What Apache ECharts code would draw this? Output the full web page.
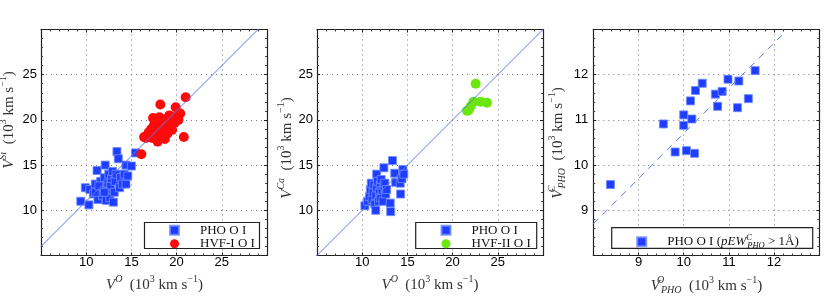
<!DOCTYPE html>
<html><head><meta charset="utf-8">
<script src="https://cdn.jsdelivr.net/npm/echarts@6/dist/echarts.min.js"></script>
<style>html,body{margin:0;padding:0;background:#fff}#c{width:830px;height:302px}</style>
</head><body><div id="c"></div>
<script>
// ---- data ----
const ticksP12 = [10, 15, 20, 25];
const ticksP3 = [9, 10, 11, 12];

const phoSi = [[9.4,11.0],[10.3,10.6],[9.9,12.5],[10.4,12.3],[10.8,11.8],[11.0,12.9],[11.2,14.4],[11.3,11.2],[11.5,12.2],[11.6,13.2],[11.8,11.6],[11.9,12.6],[12.0,13.6],[12.1,15.0],[12.2,11.1],[12.3,12.2],[12.4,13.0],[12.5,14.0],[12.6,11.4],[12.7,12.7],[12.8,13.5],[12.9,14.3],[13.0,10.9],[13.1,12.0],[13.2,13.2],[13.3,14.0],[13.4,16.5],[13.55,15.7],[13.7,12.5],[13.8,13.6],[14.0,12.9],[14.2,14.0],[14.4,15.0],[14.4,12.9],[14.6,13.8],[15.0,14.9],[15.45,16.35],[11.0,12.0],[11.4,12.7],[12.0,12.0]];
const hvf1Si = [[16.1,16.2],[16.4,18.1],[16.6,18.0],[16.9,18.6],[17.0,18.2],[17.2,19.0],[17.3,18.0],[17.4,20.2],[17.5,19.4],[17.6,18.5],[17.7,20.0],[17.8,18.9],[17.9,17.6],[18.0,19.6],[18.0,18.2],[18.1,20.3],[18.2,21.7],[18.2,19.0],[18.3,18.4],[18.4,20.0],[18.5,19.5],[18.6,18.8],[18.7,17.9],[18.8,20.1],[18.9,19.2],[19.0,18.5],[19.1,19.9],[19.2,20.5],[19.3,19.0],[19.5,18.9],[19.6,20.3],[19.8,19.7],[19.9,21.4],[20.0,20.4],[20.2,20.0],[20.4,20.7],[20.8,18.1],[21.0,22.5],[17.2,18.4],[18.5,18.0]];
const phoCa = [[10.3,10.5],[10.6,11.0],[10.8,11.5],[10.9,12.3],[11.0,13.0],[11.1,11.2],[11.2,12.0],[11.3,12.8],[11.4,10.7],[11.5,10.0],[11.5,11.6],[11.6,12.5],[11.6,14.0],[11.7,13.2],[11.8,11.0],[11.9,12.0],[12.0,12.8],[12.0,11.4],[12.1,13.4],[12.2,12.2],[12.3,11.0],[12.4,14.7],[12.4,12.7],[12.5,13.0],[12.6,11.8],[12.7,12.3],[13.1,10.8],[13.15,9.85],[13.35,15.5],[13.6,14.1],[13.7,13.1],[14.2,13.0],[14.25,11.8],[14.4,13.5],[14.5,14.5],[14.6,14.0]];
const hvf2Ca = [[21.6,21.0],[21.8,21.1],[22.0,21.5],[22.3,22.0],[22.55,24.0],[23.1,22.0],[23.8,21.9]];
const phoC = [[8.38,9.57],[9.55,10.91],[9.81,10.29],[10.06,10.32],[10.24,10.26],[10.0,10.88],[10.0,11.11],[10.18,11.02],[10.15,11.42],[10.26,11.65],[10.41,11.81],[10.70,11.57],[10.85,11.63],[10.75,11.30],[10.98,11.90],[11.22,11.86],[11.19,11.27],[11.43,11.47],[11.58,12.09]];
const fitSi = [[5, 6], [29, 30]];
const fitCa = [[5, 5], [30, 30]];
const fitC = [[8, 8.7], [12.25, 12.95]];

// ---- style ----
const BLUE = '#1f3dff', RED = '#ff0a0a', GREEN = '#6ae80e', LINEC = '#5a78f2';
const SERIF = 'Liberation Serif', SANS = 'Liberation Sans';
const TXT = '#333';
const FS = 15, SFS = 10;
const rich = {
  i: {fontFamily: SERIF, fontStyle: 'italic', fontSize: FS, color: TXT},
  n: {fontFamily: SERIF, fontSize: FS, color: TXT},
  sup: {fontFamily: SERIF, fontSize: SFS, color: TXT, padding: [0, 0, 11, 0]},
  supi: {fontFamily: SERIF, fontStyle: 'italic', fontSize: SFS, color: TXT, padding: [0, 0, 11, 0]},
  supw: {fontFamily: SERIF, fontStyle: 'italic', fontSize: SFS, color: TXT, padding: [0, 0, 11, 0], width: 1},
  subi: {fontFamily: SERIF, fontStyle: 'italic', fontSize: SFS, color: TXT, padding: [9, 0, 0, 0]}
};
const lrich = {
  i: {fontFamily: SERIF, fontStyle: 'italic', fontSize: 13, color: '#111'},
  n: {fontFamily: SERIF, fontSize: 13, color: '#111'},
  supw: {fontFamily: SERIF, fontStyle: 'italic', fontSize: 8.5, color: '#111', padding: [0, 0, 9, 0], width: 1},
  subi: {fontFamily: SERIF, fontStyle: 'italic', fontSize: 8.5, color: '#111', padding: [7, 0, 0, 0]}
};
const unit = '{n|(10}{sup|3}{n| km s}{sup|\u22121}{n|)}';

function axis(gi, pos, min, max, interval, ticks, main, margin) {
  return {
    type: 'value', gridIndex: gi, position: pos, min: min, max: max, interval: interval,
    axisLine: {show: true, onZero: false, lineStyle: {color: '#222', width: 1.2}},
    axisTick: {show: true, inside: true, length: 3, lineStyle: {color: '#222', width: 1}},
    minorTick: {show: true, splitNumber: 5, length: 2, lineStyle: {color: '#444', width: 1}},
    axisLabel: {show: main, margin: margin, color: '#000', fontSize: 13, fontFamily: SANS,
      formatter: function (v) { return ticks.indexOf(+v.toFixed(6)) >= 0 ? String(+v.toFixed(6)) : ''; }},
    splitLine: {show: main, lineStyle: {color: '#777', width: 1, type: [1, 4]}},
    minorSplitLine: {show: false}
  };
}

const grids = [
  {left: 41, top: 29.5, width: 226, height: 226},
  {left: 317, top: 29.5, width: 226, height: 226},
  {left: 593.3, top: 29.5, width: 226, height: 226}
];
const xAxes = [], yAxes = [];
const ranges = [[5, 30, 5, ticksP12], [5, 30, 5, ticksP12], [8, 13, 1, ticksP3]];
ranges.forEach(function (r, gi) {
  xAxes.push(axis(gi, 'bottom', r[0], r[1], r[2], r[3], true, 0));
  xAxes.push(axis(gi, 'top', r[0], r[1], r[2], r[3], false, 2));
  yAxes.push(axis(gi, 'left', r[0], r[1], r[2], r[3], true, gi === 2 ? 5 : 4));
  yAxes.push(axis(gi, 'right', r[0], r[1], r[2], r[3], false, 4));
});

function sq(name, data, xi, yi) {
  return {type: 'scatter', name: name, data: data, xAxisIndex: xi, yAxisIndex: yi, symbol: 'rect', symbolSize: 8,
    itemStyle: {color: BLUE, borderColor: 'rgba(110,140,255,0.85)', borderWidth: 1, opacity: 1}, z: 2};
}
function circ(name, data, color, xi, yi) {
  return {type: 'scatter', name: name, data: data, xAxisIndex: xi, yAxisIndex: yi, symbol: 'circle', symbolSize: 10,
    itemStyle: {color: color, opacity: 1}, z: 2};
}
function fit(name, data, xi, yi, dashed) {
  return {type: 'line', name: name, data: data, xAxisIndex: xi, yAxisIndex: yi, symbol: 'none', showSymbol: false, silent: true,
    color: LINEC, itemStyle: {color: LINEC},
    lineStyle: {color: LINEC, width: 1, opacity: 1, type: dashed ? [7, 6] : 'solid'}, z: 3};
}

const nameC = 'PHO O I (pEW > 1\u00c5)';
const series = [
  sq('PHO O I', phoSi, 0, 0), circ('HVF-I O I', hvf1Si, RED, 0, 0), fit('fitSi', fitSi, 0, 0, false),
  sq('PHO O I', phoCa, 2, 2), circ('HVF-II O I', hvf2Ca, GREEN, 2, 2), fit('fitCa', fitCa, 2, 2, false),
  sq(nameC, phoC, 4, 4), fit('fitC', fitC, 4, 4, true)
];

function legend(left, top, items) {
  return {left: left, top: top, orient: 'vertical', padding: 0, itemGap: 0.4, itemWidth: 9, itemHeight: 9,
    selectedMode: false, z: 10, data: items,
    formatter: function (n) {
      if (n === nameC) return '{n|PHO O I (}{i|pEW}{supw|C}{subi|PHO}{n| > 1\u00c5)}';
      return '{n|' + n + '}';
    },
    textStyle: {fontFamily: SERIF, fontSize: 13, color: '#111', lineHeight: 11, padding: [0, 0, 0, 16], rich: lrich}};
}

function gtext(x, y, text, rot) {
  return {type: 'text', x: x, y: y, rotation: rot || 0, z: 20,
    style: {text: text, rich: rich, align: 'center', verticalAlign: 'middle', fontFamily: SERIF, fontSize: FS, fill: TXT}};
}
function box(x, y, w, h) {
  return {type: 'rect', shape: {x: x, y: y, width: w, height: h}, z: 8,
    style: {fill: '#fff', stroke: '#222', lineWidth: 1.2}};
}

const option = {
  animation: false,
  backgroundColor: '#fff',
  grid: grids,
  xAxis: xAxes,
  yAxis: yAxes,
  legend: [
    legend(169, 223.8, [{name: 'PHO O I', icon: 'rect'}, {name: 'HVF-I O I', icon: 'circle'}]),
    legend(440.5, 223.8, [{name: 'PHO O I', icon: 'rect'}, {name: 'HVF-II O I', icon: 'circle'}]),
    legend(636.2, 232.8, [{name: nameC, icon: 'rect'}])
  ],
  series: series,
  graphic: [
    box(144.5, 222.5, 115, 26), box(415.7, 222.5, 121, 26), box(611.7, 227.7, 201, 20.6),
    gtext(154.5, 285, '{i|V}{supi|O}  ' + unit),
    gtext(430, 285, '{i|V}{supi|O}  ' + unit),
    gtext(706.5, 286, '{i|V}{supw|O}{subi|PHO}  ' + unit),
    gtext(9, 120, '{i|V}{supi|Si}  ' + unit, Math.PI / 2),
    gtext(287, 148, '{i|V}{supi|Ca}  ' + unit, Math.PI / 2),
    gtext(558, 143, '{i|V}{supw|C}{subi|PHO}  ' + unit, Math.PI / 2)
  ]
};
const chart = echarts.init(document.getElementById('c'), null, {renderer: 'canvas'});
chart.setOption(option);
</script>
</body></html>
